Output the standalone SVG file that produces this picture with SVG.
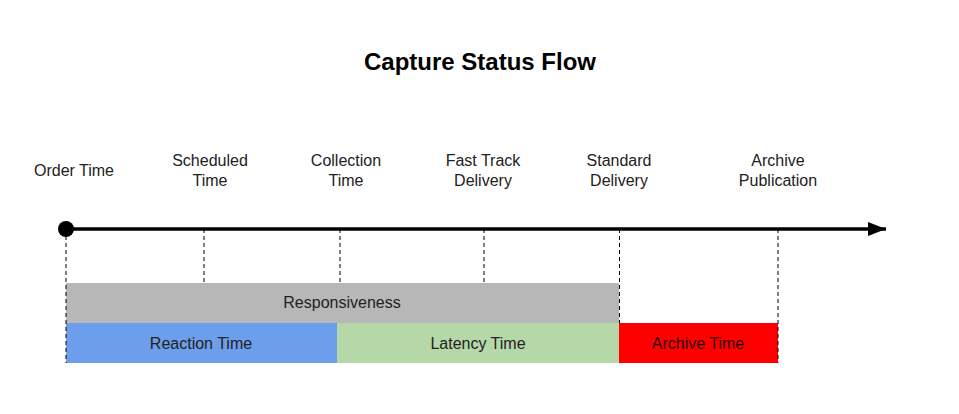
<svg xmlns="http://www.w3.org/2000/svg" width="959" height="414" viewBox="0 0 959 414">
<style>
text{font-family:"Liberation Sans",Arial,sans-serif;font-size:16px;fill:#222;text-anchor:middle}
.title{font-size:24px;font-weight:bold;fill:#000}
.dash{stroke:#000;stroke-width:1;stroke-dasharray:4,3;fill:none}
.axis{stroke:#000;stroke-width:3.5;fill:none}
</style>
<defs>
<marker id="arr" markerWidth="6" markerHeight="4" refX="5.2" refY="2" orient="auto" markerUnits="strokeWidth">
<path d="M0,0 L5.2,2 L0,4 Z" fill="#000"/>
</marker>
</defs>
<rect width="959" height="414" fill="#fff"/>
<text class="title" x="480" y="70">Capture Status Flow</text>
<g id="bars">
<g id="responsiveness"><rect x="66" y="283" width="553" height="40" fill="#b7b7b7"/><text x="342" y="308">Responsiveness</text></g>
<g id="reaction"><rect x="66" y="323" width="271" height="40" fill="#6d9eeb"/><text x="201" y="349">Reaction Time</text></g>
<g id="latency"><rect x="337" y="323" width="282" height="40" fill="#b6d7a8"/><text x="478" y="349">Latency Time</text></g>
<g id="archive"><rect x="619" y="323" width="159" height="40" fill="#ff0000"/><text x="698" y="349" style="fill:#2a0000">Archive Time</text></g>
</g>
<g id="connectors">
<line class="axis" x1="66" y1="229" x2="886" y2="229" marker-end="url(#arr)"/>
<line class="dash" x1="66" y1="229" x2="66" y2="363"/>
<line class="dash" x1="204" y1="229" x2="204" y2="283"/>
<line class="dash" x1="340" y1="229" x2="340" y2="283"/>
<line class="dash" x1="484" y1="229" x2="484" y2="283"/>
<line class="dash" x1="619.5" y1="229" x2="619.5" y2="323"/>
<line class="dash" x1="778" y1="229" x2="778" y2="363"/>
</g>
<g id="start"><circle cx="66" cy="229" r="8" fill="#000"/></g>
<g id="labels">
<g id="order"><text x="74" y="176">Order Time</text></g>
<g id="scheduled"><text x="210" y="166">Scheduled</text><text x="210" y="186">Time</text></g>
<g id="collection"><text x="346" y="166">Collection</text><text x="346" y="186">Time</text></g>
<g id="fasttrack"><text x="483" y="166">Fast Track</text><text x="483" y="186">Delivery</text></g>
<g id="standard"><text x="619" y="166">Standard</text><text x="619" y="186">Delivery</text></g>
<g id="publication"><text x="778" y="166">Archive</text><text x="778" y="186">Publication</text></g>
</g>
</svg>
